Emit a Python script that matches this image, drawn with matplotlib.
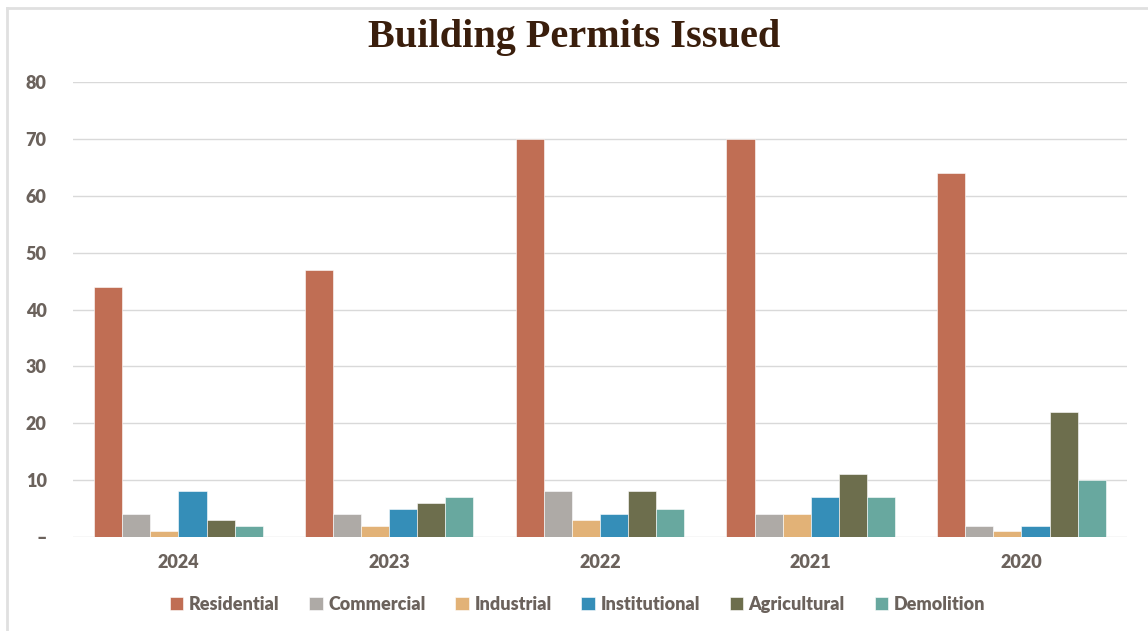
import matplotlib.pyplot as plt
import numpy as np
from matplotlib.lines import Line2D

# permit counts by year and category
years = ['2024', '2023', '2022', '2021', '2020']
categories = ['Residential', 'Commercial', 'Industrial', 'Institutional', 'Agricultural', 'Demolition']
residential = [44, 47, 70, 70, 64]
commercial = [4, 4, 8, 4, 2]
industrial = [1, 2, 3, 4, 1]
institutional = [8, 5, 4, 7, 2]
agricultural = [3, 6, 8, 11, 22]
demolition = [2, 7, 5, 7, 10]
series = [residential, commercial, industrial, institutional, agricultural, demolition]
colors = ['#c06e54', '#aeaaa6', '#e2b277', '#358eb8', '#6d6e4d', '#68a89f']

text_color = '#6b625c'
plt.rcParams['font.family'] = ['Lato', 'DejaVu Sans']
plt.rcParams['font.weight'] = 'heavy'

fig = plt.figure(figsize=(11.48, 6.31), dpi=100)
ax = fig.add_axes([0.0636, 0.149, 0.918, 0.721])

x = np.arange(len(years))
w = 0.8 / len(categories)
for i, (vals, c, name) in enumerate(zip(series, colors, categories)):
    ax.bar(x - 0.4 + w * (i + 0.5), vals, width=w, color=c, label=name,
           edgecolor='white', linewidth=0.4, zorder=3)

ax.set_xlim(-0.5, len(years) - 0.5)
ax.set_ylim(0, 80)
ax.set_yticks(range(0, 90, 10))
ax.set_yticklabels(['–'] + [str(v) for v in range(10, 90, 10)])
ax.set_xticks(x)
ax.set_xticklabels(years)
ax.grid(axis='y', color='#d9d9d9', linewidth=1, zorder=0)
for s in ax.spines.values():
    s.set_visible(False)
ax.tick_params(length=0, colors=text_color, labelsize=13)
ax.tick_params(axis='y', pad=19)
ax.tick_params(axis='x', pad=12)

fig.text(0.5, 0.94, 'Building Permits Issued', ha='center', va='center',
         fontsize=29, fontweight='bold', family='Liberation Serif', color='#3a1e0c')

leg = fig.legend(loc='center', bbox_to_anchor=(0.503, 0.042), ncol=6, frameon=False,
                 handlelength=0.75, handleheight=0.75, handletextpad=0.3,
                 columnspacing=1.65, fontsize=13)
for t in leg.get_texts():
    t.set_color(text_color)

# light frame on the top and left edge
fig.add_artist(Line2D([0.0065, 1.0], [0.987, 0.987], color='#e0e0e0', linewidth=2))
fig.add_artist(Line2D([0.0065, 0.0065], [0.0, 0.987], color='#e0e0e0', linewidth=2))

fig.savefig('out.png', dpi=100)
